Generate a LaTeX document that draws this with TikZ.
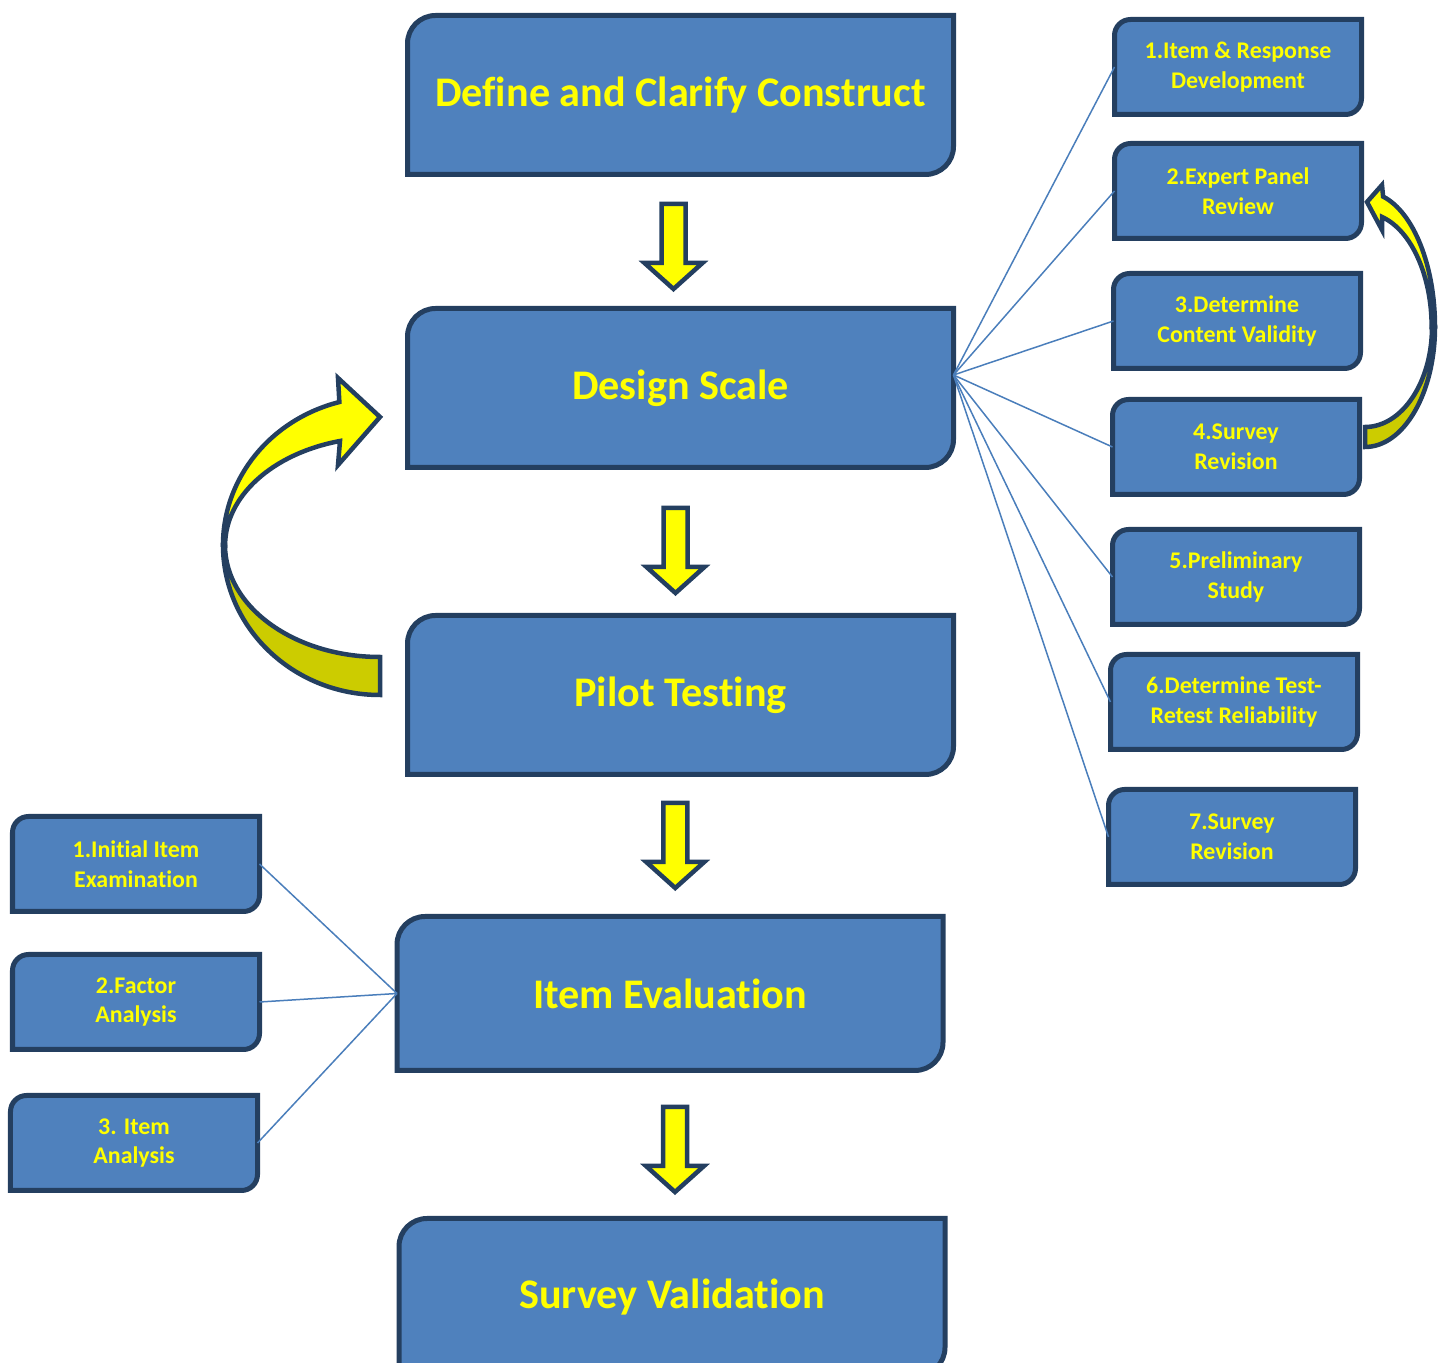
\documentclass[tikz,border=0pt]{standalone}
\usepackage{fontspec}
\setmainfont{Carlito}[RawFeature={-liga;-clig;-rlig;-dlig;-calt}]
\usepackage{xcolor}
\usepackage{tikz}
\usetikzlibrary{calc}
\usetikzlibrary{backgrounds}

\definecolor{boxblue}{HTML}{4F81BD}
\definecolor{boxedge}{HTML}{243F60}
\definecolor{lineblue}{HTML}{4A7EBB}
\definecolor{brightyellow}{HTML}{FFFF00}
\definecolor{darkyellow}{HTML}{CCCC00}

% block arrow half way between two boxes
\newcommand{\flowarrow}[3][0,0]{%
  \filldraw[blockarrow] ($(#2.south)!0.5!(#3.north)+(#1)$) ++(-0.12,0.425)
    -- ++(0,-0.59) -- ++(-0.17,0) -- ++(0.29,-0.26) -- ++(0.29,0.26)
    -- ++(-0.17,0) -- ++(0,0.59) -- cycle;}

\begin{document}
\begin{tikzpicture}[
    stepbox/.style={minimum width=5.46cm, minimum height=1.59cm, inner sep=0pt,
      outer sep=0pt, text=brightyellow, font=\fontsize{12}{14}\selectfont\bfseries},
    subbox/.style={minimum width=2.47cm, minimum height=0.95cm, inner sep=0pt,
      outer sep=0pt, align=center, text=brightyellow,
      font=\fontsize{6.8}{8.5}\selectfont\bfseries},
    boxline/.style={fill=boxblue, draw=boxedge, line width=0.05cm},
    blockarrow/.style={fill=brightyellow, draw=boxedge, line width=0.045cm},
    curvearrow/.style={draw=boxedge, line width=0.045cm},
    fanline/.style={draw=lineblue, line width=0.015cm}]
        \useasboundingbox (0,0) rectangle (14.45,-13.63);

        \node[stepbox] (define) at (6.805,-0.95) {Define and Clarify Construct};
        \node[stepbox] (design) at (6.805,-3.88) {Design Scale};
        \node[stepbox] (pilot) at (6.805,-6.95) {Pilot Testing};
        \node[stepbox, minimum height=1.54cm] (item) at (6.70,-9.935) {Item Evaluation};
        \node[stepbox, minimum height=1.57cm] (valid) at (6.72,-12.97) {Survey Validation};

        \node[subbox] (r1) at (12.38,-0.67) {1.Item \& Response\\Development};
        \node[subbox] (r2) at (12.38,-1.91) {2.Expert Panel\\Review};
        \node[subbox] (r3) at (12.37,-3.21) {3.Determine\\Content Validity};
        \node[subbox] (r4) at (12.36,-4.47) {4.Survey\\Revision};
        \node[subbox] (r5) at (12.36,-5.77) {5.Preliminary\\Study};
        \node[subbox] (r6) at (12.34,-7.02) {6.Determine Test-\\Retest Reliability};
        \node[subbox] (r7) at (12.32,-8.37) {7.Survey\\Revision};

        \node[subbox] (l1) at (1.36,-8.64) {1.Initial Item\\Examination};
        \node[subbox] (l2) at (1.36,-10.02) {2.Factor\\Analysis};
        \node[subbox] (l3) at (1.34,-11.43) {3. Item\\Analysis};

        \begin{scope}[on background layer]
            \foreach \n/\rad in {define/0.28, design/0.28, pilot/0.28, item/0.28,
                valid/0.28, r1/0.16, r2/0.16, r3/0.16, r4/0.16, r5/0.16, r6/0.16,
                r7/0.16, l1/0.16, l2/0.16, l3/0.16}
                \filldraw[boxline] (\n.south west) -- ([yshift=-\rad cm]\n.north west)
                    arc[start angle=180, end angle=90, radius=\rad]
                    -- (\n.north east) -- ([yshift=\rad cm]\n.south east)
                    arc[start angle=0, end angle=-90, radius=\rad] -- cycle;
        \end{scope}

        \flowarrow[-0.07,-0.05]{define}{design}
        \flowarrow[-0.05,-0.09]{design}{pilot}
        \flowarrow{pilot}{item}
        \flowarrow[0.04,-0.05]{item}{valid}

        \coordinate (fan) at ([yshift=0.13cm]design.east);
        \foreach \n in {r1,r2,r3,r4,r5,r6,r7}
            \draw[fanline] (fan) -- (\n.west);
        \foreach \n in {l1,l2,l3}
            \draw[fanline] (\n.east) -- (item.west);

        % loop back from pilot testing
        \filldraw[curvearrow, fill=darkyellow] (2.23,-5.45)
            arc[start angle=180, end angle=270, x radius=1.57, y radius=1.50]
            -- (3.80,-6.57) arc[start angle=270, end angle=180, x radius=1.55, y radius=1.12]
            -- cycle;
        \filldraw[curvearrow, fill=brightyellow] (2.23,-5.45)
            arc[start angle=180, end angle=105, x radius=1.57, y radius=1.48]
            -- (3.38,-3.78) -- (3.80,-4.17) -- (3.38,-4.65)
            -- (3.40,-4.41) arc[start angle=105, end angle=180, x radius=1.55, y radius=1.08]
            -- cycle;

        % loop back from survey revision
        \filldraw[curvearrow, fill=darkyellow] (13.65,-4.47)
            arc[start angle=270, end angle=360, x radius=0.70, y radius=1.20]
            -- (14.32,-3.27) arc[start angle=360, end angle=270, x radius=0.67, y radius=1.00]
            -- cycle;
        \filldraw[curvearrow, fill=brightyellow] (14.35,-3.27)
            arc[start angle=0, end angle=75, x radius=0.70, y radius=1.35]
            -- (13.82,-1.85) -- (13.67,-2.02) -- (13.82,-2.30)
            -- (13.82,-2.17) arc[start angle=75, end angle=0, x radius=0.67, y radius=1.14]
            -- cycle;
    \end{tikzpicture}
\end{document}
